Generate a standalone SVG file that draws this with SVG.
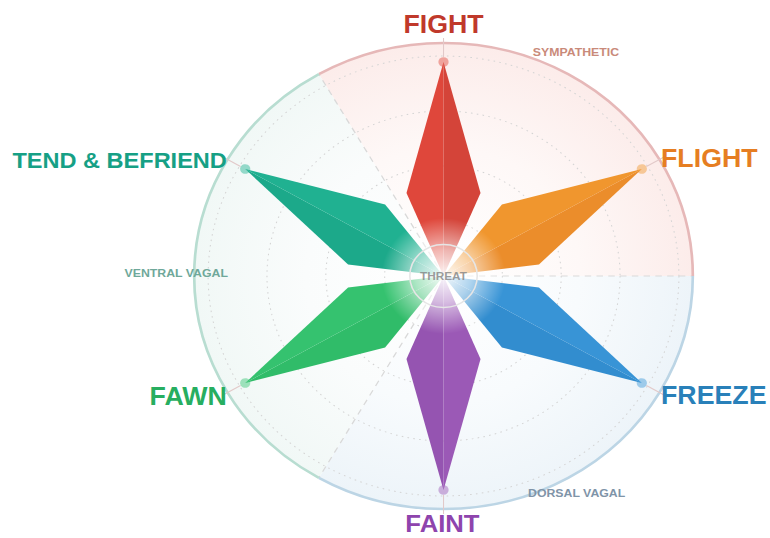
<svg xmlns="http://www.w3.org/2000/svg" width="770" height="538" viewBox="0 0 770 538">
<defs>
<style>
.lbl{font-family:"Liberation Sans",Arial,sans-serif;font-weight:bold;font-size:25px}
.sub{font-family:"Liberation Sans",Arial,sans-serif;font-weight:bold;font-size:11.5px}
.ring{fill:none;stroke:#d4d4d4;stroke-width:1;stroke-dasharray:1.5 4}
.bound{fill:none;stroke:#d9d9d9;stroke-width:1.2;stroke-dasharray:6 5}
.lead{stroke:#e2c9c9;stroke-width:1}
</style>
<radialGradient id="gSym" gradientUnits="userSpaceOnUse" cx="414.5" cy="276" r="233">
<stop offset="0" stop-color="#ffffff"/><stop offset="0.55" stop-color="#fef8f7"/><stop offset="1" stop-color="#fcecea"/>
</radialGradient>
<radialGradient id="gDor" gradientUnits="userSpaceOnUse" cx="414.5" cy="276" r="233">
<stop offset="0" stop-color="#ffffff"/><stop offset="0.55" stop-color="#f8fbfd"/><stop offset="1" stop-color="#edf4f9"/>
</radialGradient>
<radialGradient id="gVen" gradientUnits="userSpaceOnUse" cx="414.5" cy="276" r="233">
<stop offset="0" stop-color="#ffffff"/><stop offset="0.55" stop-color="#fafcfc"/><stop offset="1" stop-color="#f1f8f6"/>
</radialGradient>
<radialGradient id="gCenter" gradientUnits="userSpaceOnUse" cx="414.5" cy="276" r="58">
<stop offset="0" stop-color="#ffffff" stop-opacity="0.95"/><stop offset="0.45" stop-color="#ffffff" stop-opacity="0.6"/><stop offset="1" stop-color="#ffffff" stop-opacity="0"/>
</radialGradient>
</defs>
<g transform="scale(1.07,1)">
<g id="sectors">
<path d="M414.5,276 L298,74.2 A233,233 0 0,1 647.5,276 Z" fill="url(#gSym)"/>
<path d="M414.5,276 L647.5,276 A233,233 0 0,1 298,477.8 Z" fill="url(#gDor)"/>
<path d="M414.5,276 L298,477.8 A233,233 0 0,1 298,74.2 Z" fill="url(#gVen)"/>
<circle class="ring" cx="414.5" cy="276" r="55"/>
<circle class="ring" cx="414.5" cy="276" r="110"/>
<circle class="ring" cx="414.5" cy="276" r="165"/>
<circle class="ring" cx="414.5" cy="276" r="220"/>
<line class="bound" x1="414.5" y1="276" x2="298" y2="74.2"/>
<line class="bound" x1="414.5" y1="276" x2="647.5" y2="276" stroke="#ecd2d2"/>
<line class="bound" x1="414.5" y1="276" x2="298" y2="477.8"/>
<path d="M298,74.2 A233,233 0 0,1 647.5,276" fill="none" stroke="#e6b8b8" stroke-width="2.5"/>
<path d="M647.5,276 A233,233 0 0,1 298,477.8" fill="none" stroke="#bcd5e5" stroke-width="2.5"/>
<path d="M298,477.8 A233,233 0 0,1 298,74.2" fill="none" stroke="#b8ddd1" stroke-width="2.5"/>
</g>
<g id="connectors">
<g transform="translate(414.5,276)">
<line class="lead" x1="0" y1="-219" x2="0" y2="-238"/>
<line class="lead" x1="0" y1="-219" x2="0" y2="-238" transform="rotate(60)"/>
<line class="lead" x1="0" y1="-219" x2="0" y2="-238" transform="rotate(120)"/>
<line class="lead" x1="0" y1="-219" x2="0" y2="-238" transform="rotate(180)"/>
<line class="lead" x1="0" y1="-219" x2="0" y2="-238" transform="rotate(240)"/>
<line class="lead" x1="0" y1="-219" x2="0" y2="-238" transform="rotate(300)"/>
</g>
</g>
<g id="fight">
<g transform="translate(414.5,276)">
<path d="M0,0 L-34.6,-83 L0,-214 Z" fill="#df473b"/>
<path d="M0,0 L0,-214 L34.6,-83 Z" fill="#d44439"/>
<circle cx="0" cy="-214" r="4.8" fill="#e0483c" fill-opacity="0.45"/>
</g>
<text class="lbl" x="414.5" y="33" text-anchor="middle" fill="#c0392b">FIGHT</text>
</g>
<g id="flight">
<g transform="translate(414.5,276) rotate(60)">
<path d="M0,0 L-34.6,-83 L0,-214 Z" fill="#f0962e"/>
<path d="M0,0 L0,-214 L34.6,-83 Z" fill="#eb8d2b"/>
<circle cx="0" cy="-214" r="4.8" fill="#f0962e" fill-opacity="0.45"/>
</g>
<text class="lbl" x="617.8" y="167" fill="#e67e22">FLIGHT</text>
</g>
<g id="freeze">
<g transform="translate(414.5,276) rotate(120)">
<path d="M0,0 L-34.6,-83 L0,-214 Z" fill="#3894d6"/>
<path d="M0,0 L0,-214 L34.6,-83 Z" fill="#328dcf"/>
<circle cx="0" cy="-214" r="4.8" fill="#3a96d8" fill-opacity="0.45"/>
</g>
<text class="lbl" x="617.8" y="404" fill="#2980b9">FREEZE</text>
</g>
<g id="faint">
<g transform="translate(414.5,276) rotate(180)">
<path d="M0,0 L-34.6,-83 L0,-214 Z" fill="#9b59b6"/>
<path d="M0,0 L0,-214 L34.6,-83 Z" fill="#9554b1"/>
<circle cx="0" cy="-214" r="4.8" fill="#9b59b6" fill-opacity="0.45"/>
</g>
<text class="lbl" x="413.5" y="532" text-anchor="middle" fill="#8e44ad" style="font-size:24px">FAINT</text>
</g>
<g id="fawn">
<g transform="translate(414.5,276) rotate(240)">
<path d="M0,0 L-34.6,-83 L0,-214 Z" fill="#30bc69"/>
<path d="M0,0 L0,-214 L34.6,-83 Z" fill="#35c26f"/>
<circle cx="0" cy="-214" r="4.8" fill="#36c471" fill-opacity="0.45"/>
</g>
<text class="lbl" x="212" y="405" text-anchor="end" fill="#27ae60">FAWN</text>
</g>
<g id="tend">
<g transform="translate(414.5,276) rotate(300)">
<path d="M0,0 L-34.6,-83 L0,-214 Z" fill="#1ca98a"/>
<path d="M0,0 L0,-214 L34.6,-83 Z" fill="#20b191"/>
<circle cx="0" cy="-214" r="4.8" fill="#20b191" fill-opacity="0.45"/>
</g>
<text class="lbl" x="212" y="168" text-anchor="end" fill="#16a085" style="font-size:22px">TEND &amp; BEFRIEND</text>
</g>
<g id="threat">
<circle cx="414.5" cy="276" r="58" fill="url(#gCenter)"/>
<circle cx="414.5" cy="276" r="31.5" fill="none" stroke="#e6e6e6" stroke-width="1.5"/>
<text x="414.5" y="280.5" text-anchor="middle" fill="#8a8a8a" fill-opacity="0.85" style="font-family:'Liberation Sans',Arial,sans-serif;font-weight:bold;font-size:11px">THREAT</text>
</g>
<g id="systems">
<text class="sub" x="498" y="56" fill="#c98a7a">SYMPATHETIC</text>
<text class="sub" x="213" y="277" text-anchor="end" fill="#6fa89a">VENTRAL VAGAL</text>
<text class="sub" x="493.5" y="497" fill="#7f94a8">DORSAL VAGAL</text>
</g>
</g>
</svg>
